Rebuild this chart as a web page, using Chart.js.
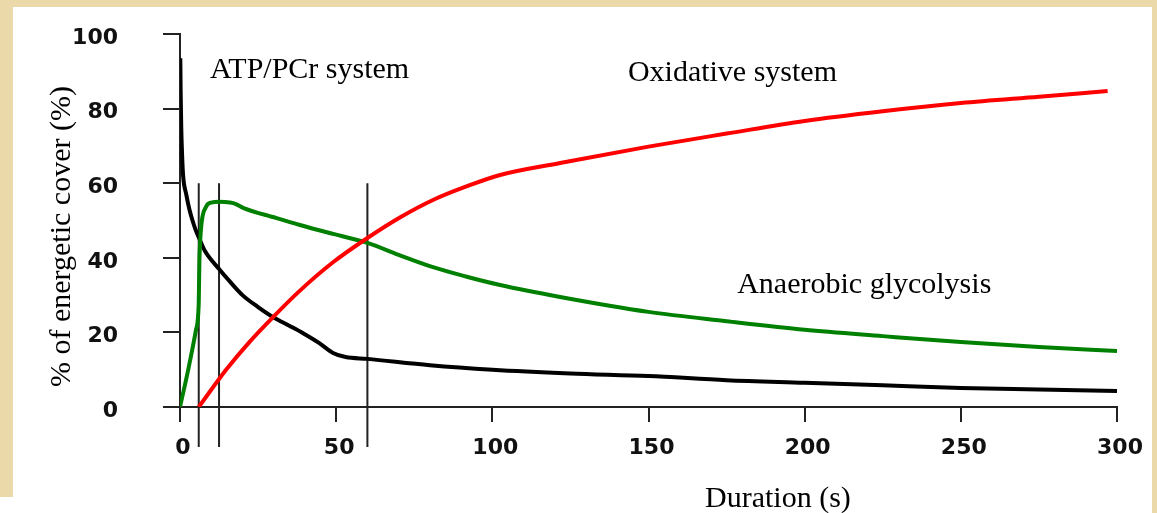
<!DOCTYPE html>
<html>
<head>
<meta charset="utf-8">
<script src="https://cdn.jsdelivr.net/npm/chart.js@4"></script>
<style>
  body { margin: 0; background: #ecd9aa; }
  #paper { position: absolute; left: 13px; top: 7px; width: 1139px; height: 506px; background: #fff; }
  #foot { position: absolute; left: 0; top: 497px; width: 1152px; height: 16px; background: #fff; }
  canvas { position: absolute; left: 0; top: 0; }
</style>
</head>
<body>
<div id="paper"></div>
<div id="foot"></div>
<canvas id="chart" width="1157" height="513"></canvas>
<script>
// ATP/PCr system (black)
var atpTime  = [0.1, 0.2, 0.4, 0.7, 1, 2, 3, 4, 5, 6, 8, 12.5, 16, 20, 25, 30, 35, 39.4, 44.5, 49, 53, 60, 80, 100, 125, 150, 175, 200, 225, 250, 275, 300];
var atpValue = [93.5, 85, 75, 67, 62, 57, 53, 50, 47.5, 45.5, 41.8, 37, 33.6, 30, 26.8, 24, 21.8, 19.8, 17.2, 14.5, 13.4, 12.9, 11.2, 10, 9, 8.3, 7.2, 6.5, 5.8, 5.1, 4.7, 4.3];

// anaerobic glycolysis (green)
var glyTime  = [0, 2.6, 5.1, 6, 6.2, 6.7, 8.3, 10, 12.5, 16, 17.9, 20.2, 30.7, 38.4, 49, 60, 70, 81, 91.5, 102.5, 121.7, 150, 175, 200, 225, 250, 275, 300];
var glyValue = [0, 9.9, 20.6, 27.9, 38.6, 47.5, 53.6, 54.8, 55, 54.8, 54.4, 53.4, 50.7, 48.8, 46.4, 44, 40.8, 37.5, 35, 32.7, 29.5, 25.5, 23, 20.7, 19, 17.4, 16.1, 15];

// oxidative system (red)
var oxTime  = [6, 14.7, 22, 29.8, 38.4, 49, 60, 70.4, 81, 91.9, 102.5, 121.7, 150, 175, 200, 225, 250, 275, 297];
var oxValue = [0, 9.9, 17.2, 24.1, 31.2, 38.8, 45.3, 50.8, 55.5, 59.2, 62.2, 65.4, 69.8, 73.3, 76.7, 79.3, 81.5, 83.2, 84.7];

// vertical phase markers
var markerTimes = [6, 12.5, 60];
var markerTop = 60, markerBottom = -10.7;

var xTicks = [0, 50, 100, 150, 200, 250, 300];
var yTicks = [0, 20, 40, 60, 80, 100];

function pts(xs, ys) {
    return xs.map(function (x, i) { return { x: x, y: ys[i] }; });
}

var datasets = [
    { data: pts(oxTime, oxValue), borderColor: '#ff0000' },
    { data: pts(glyTime, glyValue), borderColor: '#008000' },
    { data: pts(atpTime, atpValue), borderColor: '#000000' }
].map(function (d) {
    d.borderWidth = 4;
    d.pointRadius = 0;
    d.cubicInterpolationMode = 'monotone';
    return d;
});

markerTimes.forEach(function (t) {
    datasets.push({
        data: [{ x: t, y: markerTop }, { x: t, y: markerBottom }],
        borderColor: '#222',
        borderWidth: 2,
        pointRadius: 0,
        clip: false
    });
});

var notes = [
    { text: 'ATP/PCr system', x: 9.6, y: 88.2 },
    { text: 'Oxidative system', x: 143.4, y: 87.4 },
    { text: 'Anaerobic glycolysis', x: 178.4, y: 30.6 }
];

var textPlugin = {
    id: 'texts',
    afterDraw: function (chart) {
        var ctx = chart.ctx, xs = chart.scales.x, ys = chart.scales.y;
        ctx.save();
        ctx.fillStyle = '#000';
        ctx.font = '30px "Liberation Serif"';
        ctx.textAlign = 'left';
        ctx.textBaseline = 'alphabetic';
        notes.forEach(function (n) {
            ctx.fillText(n.text, xs.getPixelForValue(n.x), ys.getPixelForValue(n.y));
        });
        // axis titles
        ctx.fillText('Duration (s)', xs.getPixelForValue(168.1), chart.chartArea.bottom + 100);
        ctx.translate(70, ys.getPixelForValue(45.7));
        ctx.rotate(-Math.PI / 2);
        ctx.textAlign = 'center';
        ctx.fillText('% of energetic cover (%)', 0, 0);
        ctx.restore();
    }
};

var tickFont = { family: '"DejaVu Sans"', size: 22, weight: 'bold' };

new Chart('chart', {
    type: 'line',
    data: { datasets: datasets },
    plugins: [textPlugin],
    options: {
        responsive: false,
        animation: false,
        devicePixelRatio: 1,
        layout: { padding: { left: 0, top: 34, right: 40, bottom: 0 } },
        plugins: { legend: { display: false }, tooltip: { enabled: false } },
        scales: {
            x: {
                type: 'linear',
                min: 0,
                max: 300,
                afterBuildTicks: function (s) { s.ticks = xTicks.map(function (v) { return { value: v }; }); },
                afterFit: function (s) { s.height = 106; s.paddingLeft = 0; s.paddingRight = 0; },
                grid: { drawOnChartArea: false, tickLength: 15, color: '#222', lineWidth: 2 },
                border: { color: '#222', width: 2 },
                ticks: { font: tickFont, color: '#111', padding: 13, labelOffset: 3, maxRotation: 0 }
            },
            y: {
                min: 0,
                max: 100,
                afterBuildTicks: function (s) { s.ticks = yTicks.map(function (v) { return { value: v }; }); },
                afterFit: function (s) { s.width = 180; s.paddingTop = 0; s.paddingBottom = 0; },
                grid: { drawOnChartArea: false, tickLength: 17, color: '#222', lineWidth: 2 },
                border: { color: '#222', width: 2 },
                ticks: { font: tickFont, color: '#111', padding: 45, labelOffset: 4 }
            }
        }
    }
});
</script>
</body>
</html>
